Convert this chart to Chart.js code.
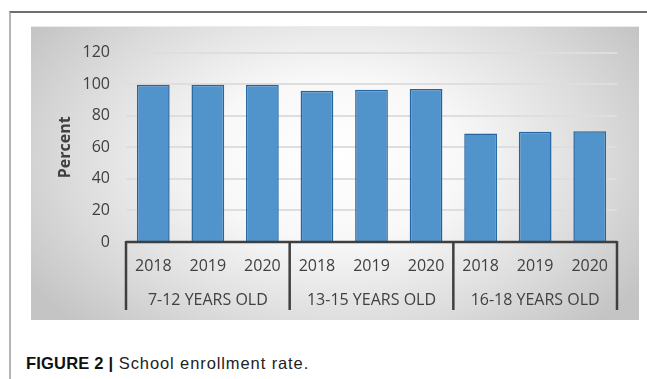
<!DOCTYPE html>
<html>
<head>
<meta charset="utf-8">
<script src="https://cdn.jsdelivr.net/npm/chart.js@4"></script>
<style>
  html, body { margin: 0; padding: 0; background: #fff; }
  body { width: 647px; height: 379px; position: relative; overflow: hidden; }
  .frame {
    position: absolute; left: 9px; top: 11px; width: 640px; height: 380px;
    border-top: 2px solid #6e6e6e; border-left: 2px solid #b4b4b4;
  }
  .box {
    position: absolute; left: 31px; top: 26px; width: 608px; height: 294px;
    background: radial-gradient(ellipse 60% 80% at 50% 45%, #ffffff 0%, #f8f8f8 35%, #dcdcdc 72%, #c4c4c4 100%);
    border-top: 1px solid #ececec;
    box-sizing: border-box;
  }
  .caption {
    position: absolute; left: 26px; top: 354px;
    font-family: "Liberation Sans", Arial, sans-serif;
    font-size: 16.5px; line-height: 18px; color: #222; white-space: nowrap;
    letter-spacing: 0.9px;
  }
  .caption b { font-size: 16.5px; letter-spacing: 0.2px; color: #111; }
</style>
</head>
<body>
<div class="frame"></div>
<div class="box"><canvas id="myChart" width="608" height="294"></canvas></div>
<div class="caption"><b>FIGURE 2 |</b> School enrollment rate.</div>
<script>
const ageGroups = ["7-12 YEARS OLD", "13-15 YEARS OLD", "16-18 YEARS OLD"];
const years = ["2018", "2019", "2020"];
const rate7to12 = [99.6, 99.7, 99.7];
const rate13to15 = [95.8, 96.4, 96.9];
const rate16to18 = [68.8, 69.8, 70.2];
const yMax = 120;
const yStep = 20;

const labels = [];
ageGroups.forEach(() => years.forEach(y => labels.push(y)));
const values = rate7to12.concat(rate13to15, rate16to18);

const textFont = { family: "'Open Sans', Lato, sans-serif", size: 16 };

// grouped category axis (baseline, separators, group names)
const groupAxis = {
  id: "groupAxis",
  afterDraw(chart) {
    const ctx = chart.ctx;
    const x = chart.scales.x;
    const bottom = chart.chartArea.bottom;
    const per = years.length;
    const step = (x.right - x.left) / labels.length;
    ctx.save();
    ctx.strokeStyle = "#3f3f3f";
    ctx.lineWidth = 2.5;
    ctx.beginPath();
    ctx.moveTo(x.left, bottom);
    ctx.lineTo(x.right, bottom);
    for (let g = 0; g <= ageGroups.length; g++) {
      const px = x.left + g * per * step;
      ctx.moveTo(px, bottom - 1);
      ctx.lineTo(px, bottom + 68);
    }
    ctx.stroke();
    ctx.fillStyle = "#404040";
    ctx.font = "16px " + textFont.family;
    ctx.textAlign = "center";
    ctx.textBaseline = "alphabetic";
    ageGroups.forEach((name, g) => {
      const cx = (x.getPixelForValue(g * per) + x.getPixelForValue(g * per + per - 1)) / 2;
      ctx.fillText(name, cx, bottom + 63);
    });
    ctx.restore();
  }
};

const config = {
  type: "bar",
  data: {
    labels: labels,
    datasets: [{
      label: "Percent",
      data: values,
      backgroundColor: "#5094cb",
      borderColor: "#2465a0",
      borderWidth: 1.5,
      categoryPercentage: 1,
      barPercentage: 0.6
    }]
  },
  options: {
    responsive: false,
    animation: false,
    layout: { padding: { top: 18, right: 22, left: 0, bottom: 0 } },
    plugins: { legend: { display: false }, tooltip: { enabled: false } },
    scales: {
      x: {
        grid: { display: false },
        border: { display: false },
        ticks: { color: "#404040", font: textFont, padding: 7, maxRotation: 0, autoSkip: false },
        afterFit(scale) { scale.height = 79; }
      },
      y: {
        min: 0,
        max: yMax,
        ticks: { stepSize: yStep, color: "#404040", font: textFont, padding: 16 },
        grid: { color: "#dedede", lineWidth: 2, drawTicks: false },
        border: { display: false },
        title: {
          display: true,
          text: "Percent",
          color: "#404040",
          font: { family: textFont.family, size: 16, weight: "bold" },
          padding: { top: 25, bottom: 0 }
        },
        afterFit(scale) { scale.width = 95; }
      }
    }
  },
  plugins: [groupAxis]
};

const myChart = new Chart(document.getElementById("myChart"), config);
</script>
</body>
</html>
